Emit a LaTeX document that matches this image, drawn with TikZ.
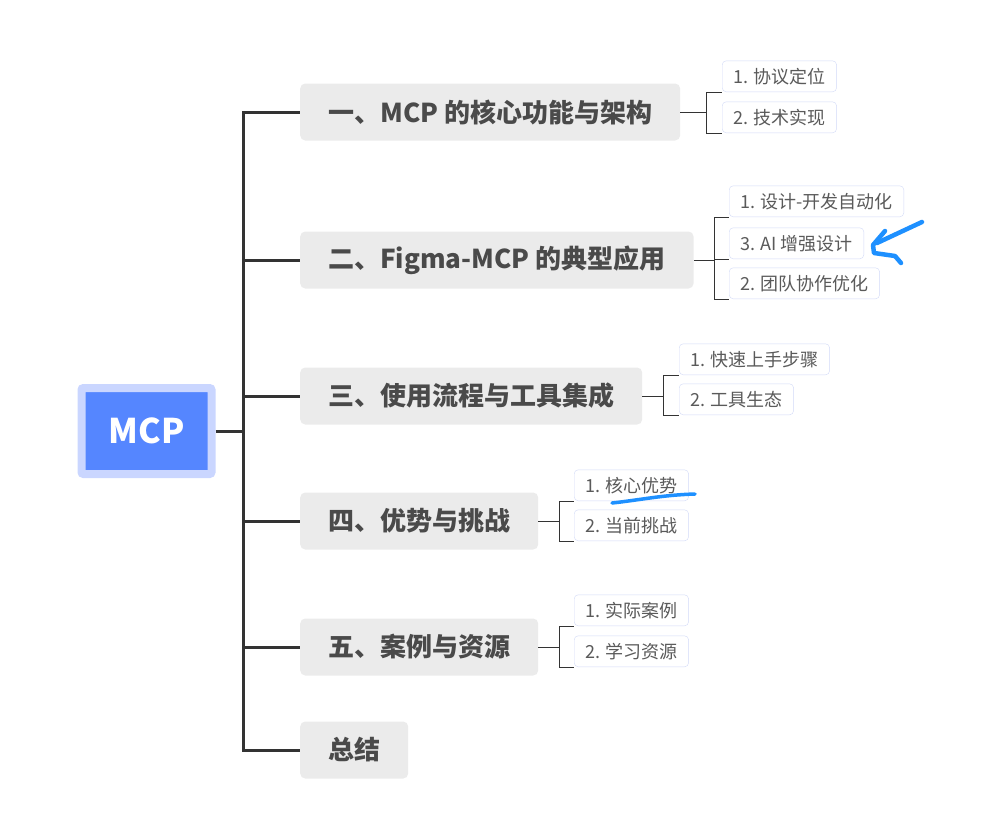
\documentclass[tikz,border=0pt]{standalone}
\usepackage{fontspec}
\setmainfont{Noto Sans CJK SC}
\usepackage{tikz}
\usetikzlibrary{positioning}
\definecolor{rootblue}{HTML}{5586FF}
\definecolor{rootedge}{HTML}{CAD6FF}
\definecolor{topicgray}{HTML}{EBEBEB}
\definecolor{topictext}{HTML}{4A4A4A}
\definecolor{subedge}{HTML}{D2DAF7}
\definecolor{subtext}{HTML}{5A5A5A}
\definecolor{trunk}{HTML}{333333}
\definecolor{pen}{HTML}{1E90FF}

\begin{document}
\begin{tikzpicture}[x=1pt, y=-1pt,
	root/.style={fill=rootblue, draw=rootedge, line width=8pt, rounded corners=2pt, minimum width=130pt, minimum height=86pt, text=white, font=\fontsize{34}{40}\selectfont\bfseries},
	topic/.style={fill=topicgray, rounded corners=5pt, anchor=west, minimum height=57pt, inner xsep=28pt, text=topictext, font=\fontsize{26}{30}\selectfont\bfseries},
	subtopic/.style={draw=subedge, fill=white, rounded corners=4pt, anchor=south west, minimum height=31pt, inner xsep=11pt, text=subtext, font=\fontsize{18}{22}\selectfont},
	trunkline/.style={draw=trunk, line width=3pt},
	twig/.style={draw=trunk, line width=1pt},
	scribble/.style={draw=pen, line width=4.5pt, line cap=round, line join=round}]
	\useasboundingbox (0,0) rectangle (992,831);
	
	% central topic
	\node[root] (mcp) at (146.5,431) {MCP};
	
	% main topics
	\node[topic] (core) at (300,112) {一、MCP 的核心功能与架构};
	\node[topic] (figma) at (300,260) {二、Figma-MCP 的典型应用};
	\node[topic] (flow) at (300,396) {三、使用流程与工具集成};
	\node[topic] (pros) at (300,521) {四、优势与挑战};
	\node[topic] (cases) at (300,647) {五、案例与资源};
	\node[topic] (summary) at (300,750) {总结};
	
	% subtopics
	\node[subtopic] (proto) at (722,92) {1. 协议定位};
	\node[subtopic] (impl) at (722,133) {2. 技术实现};
	\node[subtopic] (auto) at (729,217) {1. 设计-开发自动化};
	\node[subtopic] (aidesign) at (729,259) {3. AI 增强设计};
	\node[subtopic] (team) at (729,299) {2. 团队协作优化};
	\node[subtopic] (quick) at (679,375) {1. 快速上手步骤};
	\node[subtopic] (tools) at (679,415) {2. 工具生态};
	\node[subtopic] (adv) at (574,501) {1. 核心优势};
	\node[subtopic] (chal) at (574,541) {2. 当前挑战};
	\node[subtopic] (real) at (574,626) {1. 实际案例};
	\node[subtopic] (learn) at (574,667) {2. 学习资源};
	
	% trunk
	\draw[trunkline] (mcp.east) -- ++(28,0) coordinate (hub);
	\foreach \t in {core,figma,flow,pros,cases,summary}
		\draw[trunkline] (hub) |- (\t.west);
	
	% brackets
	\draw[twig] (core.east) -| ([xshift=-16pt]proto.south west) -- (proto.south west);
	\draw[twig] ([xshift=-16pt]proto.south west) |- (impl.south west);
	\draw[twig] (figma.east) -| ([xshift=-15pt]aidesign.south west) -- (aidesign.south west);
	\draw[twig] ([xshift=-15pt]auto.south west) -- (auto.south west);
	\draw[twig] ([xshift=-15pt]auto.south west) |- (team.south west);
	\draw[twig] (flow.east) -| ([xshift=-16pt]quick.south west) -- (quick.south west);
	\draw[twig] ([xshift=-16pt]quick.south west) |- (tools.south west);
	\draw[twig] (pros.east) -| ([xshift=-15pt]adv.south west) -- (adv.south west);
	\draw[twig] ([xshift=-15pt]adv.south west) |- (chal.south west);
	\draw[twig] (cases.east) -| ([xshift=-15pt]real.south west) -- (real.south west);
	\draw[twig] ([xshift=-15pt]real.south west) |- (learn.south west);
	
	% hand-drawn marks
	\draw[scribble] (922,222) -- (877,243);
	\draw[scribble] (885,231) -- (873,245) -- (874,253) -- (895,256) -- (901,263);
	\draw[scribble, line width=3.5pt] (612,503) .. controls (640,500) and (662,495) .. (695,494);
\end{tikzpicture}
\end{document}
